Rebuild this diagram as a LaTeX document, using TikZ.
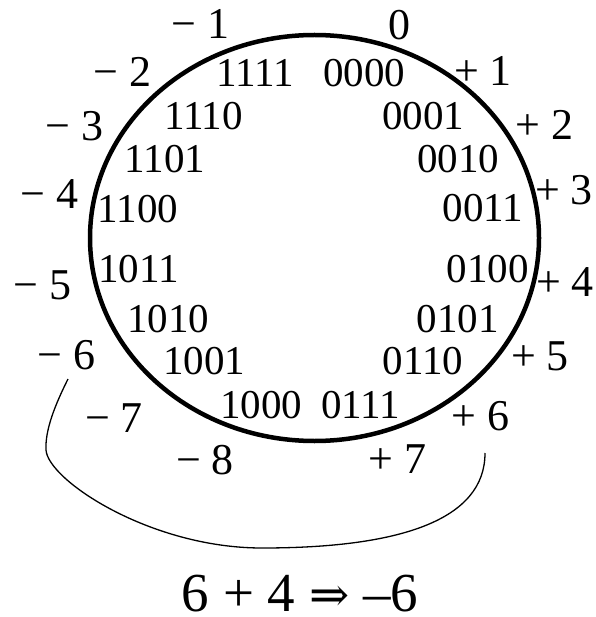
\documentclass[tikz,border=0pt]{standalone}
\usepackage{fontspec}
\setmainfont{Liberation Serif}
\newfontfamily\myarrowfont{DejaVu Serif}
\newcommand\mybinfont{\fontsize{41}{41}\selectfont}
\newcommand\mydecfont{\fontsize{44}{44}\selectfont}
\newcommand\myeqfont{\fontsize{55}{55}\selectfont}
\tikzset{
  bin/.style={font=\mybinfont, inner sep=0pt},
  dec/.style={font=\mydecfont, inner sep=0pt},
  ring/.style={line width=4.5pt},
  wrap/.style={line width=1.3pt},
}
\begin{document}
\begin{tikzpicture}[x=1pt,y=-1pt]
\useasboundingbox (0,0) rectangle (595,617);
\draw[ring] (314.5,238) ellipse [x radius=224.5, y radius=203];
% binary labels
\node[bin] (b0)  at (364,73.5)  {0000};
\node[bin] (b1)  at (423,116)   {0001};
\node[bin] (b2)  at (458,159)   {0010};
\node[bin] (b3)  at (483,208)   {0011};
\node[bin] (b4)  at (487.5,269) {0100};
\node[bin] (b5)  at (457.5,319) {0101};
\node[bin] (b6)  at (423,361.5) {0110};
\node[bin] (b7)  at (360.5,405) {0111};
\node[bin] (b8)  at (261,405)   {1000};
\node[bin] (b9)  at (204,361.5) {1001};
\node[bin] (b10) at (168,319)   {1010};
\node[bin] (b11) at (138.5,269) {1011};
\node[bin] (b12) at (138,209)   {1100};
\node[bin] (b13) at (165,159.5) {1101};
\node[bin] (b14) at (203.5,116) {1110};
\node[bin] (b15) at (255,72.5)  {1111};
% decimal labels
\node[dec] (z)  at (399,25.5)   {0};
\node[dec] (p1) at (483,71)     {+ 1};
\node[dec] (p2) at (544.5,124.5){+ 2};
\node[dec] (p3) at (564,190)    {+ 3};
\node[dec] (p4) at (565,282)    {+ 4};
\node[dec] (p5) at (540,356)    {+ 5};
\node[dec] (p6) at (480.5,416.5){+ 6};
\node[dec] (p7) at (397.5,459)  {+ 7};
\node[dec] (m8) at (205,460)    {− 8};
\node[dec] (m7) at (114,418)    {− 7};
\node[dec] (m6) at (66.5,355)   {− 6};
\node[dec] (m5) at (42.5,285.5) {− 5};
\node[dec] (m4) at (49.5,194)   {− 4};
\node[dec] (m3) at (74.5,126.5) {− 3};
\node[dec] (m2) at (122.5,72)   {− 2};
\node[dec] (m1) at (200.5,23.5) {− 1};
% wrap-around connector
\coordinate (cs) at (68,379);
\coordinate (cl) at (46,450);
\coordinate (cb) at (262,548);
\coordinate (ce) at (485,453);
\draw[wrap] (cs) .. controls (55,405) and (45,430) .. (cl)
  .. controls (48,480) and (150,548) .. (cb)
  .. controls (400,548) and (485,520) .. (ce);
% equation
\node[font=\myeqfont, inner sep=0pt, anchor=base] (eq) at (300,611) {6 + 4 {\myarrowfont\fontsize{48}{48}\selectfont ⇒} –6};
\end{tikzpicture}
\end{document}
